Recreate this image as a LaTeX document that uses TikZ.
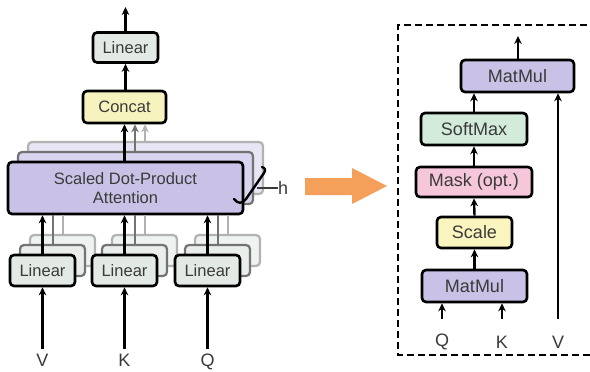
\documentclass[tikz,border=0pt]{standalone}
\usepackage{fontspec}
\setmainfont{Liberation Sans}
\usetikzlibrary{arrows.meta}
\definecolor{txt}{HTML}{3A3A3A}
\definecolor{lin}{HTML}{E3EAE6}
\definecolor{conc}{HTML}{F7F3BE}
\definecolor{purp}{HTML}{C9C2E6}
\definecolor{purp2}{HTML}{D9D4EF}
\definecolor{purp3}{HTML}{E8E5F5}
\definecolor{soft}{HTML}{D2EBDA}
\definecolor{mask}{HTML}{F6C7DA}
\definecolor{scal}{HTML}{FAF5BE}
\definecolor{orng}{HTML}{F4A05A}
\begin{document}
\begin{tikzpicture}[x=1pt,y=-1pt,
  blk/.style={draw=black,line width=2.6pt,rounded corners=4pt,text=txt,inner sep=0pt,align=center},
  lf/.style={font=\fontsize{16.5}{19}\selectfont},
  rf/.style={font=\fontsize{18}{21}\selectfont},
  cpy2/.style={draw=black!55,line width=2.2pt,rounded corners=4pt,inner sep=0pt},
  cpy3/.style={draw=black!30,line width=2.2pt,rounded corners=4pt,inner sep=0pt},
  arr/.style={line width=2.4pt,-{Stealth[length=8pt,width=7.5pt]}},
  garr2/.style={line width=2pt,draw=black!55,-{Stealth[length=8pt,width=7.5pt]}},
  garr3/.style={line width=2pt,draw=black!30,-{Stealth[length=8pt,width=7.5pt]}},
  gl2/.style={line width=2pt,draw=black!55},
  gl3/.style={line width=2pt,draw=black!30},
  lbl/.style={text=txt,inner sep=0pt,font=\fontsize{18}{21}\selectfont}]
\useasboundingbox (0,0) rectangle (590,372);
\fill[white] (0,0) rectangle (590,372);
% ---------- left: multi-head attention ----------
\node[cpy3,fill=purp3,minimum width=235pt,minimum height=52pt] (sdpa3) at (145.5,168) {};
\node[cpy2,fill=purp2,minimum width=235pt,minimum height=52pt] (sdpa2) at (135.5,178) {};
\node[blk,lf,fill=purp,minimum width=235pt,minimum height=52pt] (sdpa) at (125.5,188) {Scaled Dot-Product\\Attention};
\node[blk,lf,fill=lin,minimum width=65pt,minimum height=30pt] (lintop) at (125.5,47.5) {Linear};
\node[blk,lf,fill=conc,minimum width=83pt,minimum height=32pt] (concat) at (124.5,107) {Concat};
\coordinate (out) at (125.5,7);
\draw[arr] (lintop.north) -- (out);
\draw[arr] (concat.north -| lintop.south) -- (lintop.south);
\draw[garr3] (sdpa3.north -| 145,0) -- (concat.south -| 145,0);
\draw[garr2] (sdpa2.north -| 135,0) -- (concat.south -| 135,0);
\draw[arr] (sdpa.north -| 124.5,0) -- (concat.south -| 124.5,0);
% h bracket
\node[lbl,anchor=west] (h) at (278,188) {h};
\coordinate (hl) at (257,188);
\draw[line width=1.5pt,draw=txt] (hl) -- (h.west);
\draw[line width=2.4pt,line cap=round] (234,199) .. controls (238,204) and (242,204) .. (246,199) -- (264,173) .. controls (266,170) and (265,168) .. (262,167);
% bottom linears
\foreach \n/\cx/\t in {V/42.5/V,K/124.5/K,Q/207.5/Q}{
  \node[cpy3,fill=lin!60,minimum width=65pt,minimum height=31pt] (lin\n3) at (\cx+20,250.5) {};
  \node[cpy2,fill=lin!80,minimum width=65pt,minimum height=31pt] (lin\n2) at (\cx+10,260.5) {};
  \node[blk,lf,fill=lin,minimum width=65pt,minimum height=31pt] (lin\n) at (\cx,270.5) {Linear};
  \draw[gl3] (lin\n3.north) -- (lin\n3.north |- sdpa.south);
  \draw[gl2] (lin\n2.north) -- (lin\n2.north |- sdpa.south);
  \draw[arr] (lin\n.north) -- (lin\n.north |- sdpa.south);
  \node[lbl,anchor=north] (in\n) at (\cx,353.5) {\t};
  \coordinate (s\n) at (\cx,349);
  \draw[arr] (s\n) -- (lin\n.south);
}
% orange arrow
\fill[orng] (305,178) -- (352,178) -- (352,168) -- (387,186) -- (352,204) -- (352,195) -- (305,195) -- cycle;
% ---------- right: scaled dot-product attention ----------
\draw[line width=2.4pt,dash pattern=on 7pt off 4pt] (598,25) -- (398,25) -- (398,355) -- (598,355);
\node[blk,rf,fill=purp,minimum width=113pt,minimum height=32pt] (mm2) at (517.5,76) {MatMul};
\node[blk,rf,fill=soft,minimum width=106pt,minimum height=32pt] (sm) at (474,129) {SoftMax};
\node[blk,rf,fill=mask,minimum width=116pt,minimum height=30pt] (mk) at (474,182) {Mask (opt.)};
\node[blk,rf,fill=scal,minimum width=75pt,minimum height=31pt] (sc) at (474.5,232.5) {Scale};
\node[blk,rf,fill=purp,minimum width=105pt,minimum height=32pt] (mm1) at (474.5,286) {MatMul};
\coordinate (rout) at (518,36);
\draw[arr] (mm2.north -| rout) -- (rout);
\draw[arr] (sm.north) -- (sm.north |- mm2.south);
\draw[arr] (mk.north) -- (sm.south);
\draw[arr] (sc.north) -- (mk.south);
\draw[arr] (mm1.north -| sc.south) -- (sc.south);
\node[lbl] (rq) at (442,342) {Q};
\node[lbl] (rk) at (502,342) {K};
\node[lbl] (rv) at (558,342) {V};
\coordinate (q0) at (442,319);
\coordinate (k0) at (502,319);
\coordinate (v0) at (558,319);
\draw[arr] (q0) -- (q0 |- mm1.south);
\draw[arr] (k0) -- (k0 |- mm1.south);
\draw[arr] (v0) -- (v0 |- mm2.south);
\end{tikzpicture}
\end{document}
